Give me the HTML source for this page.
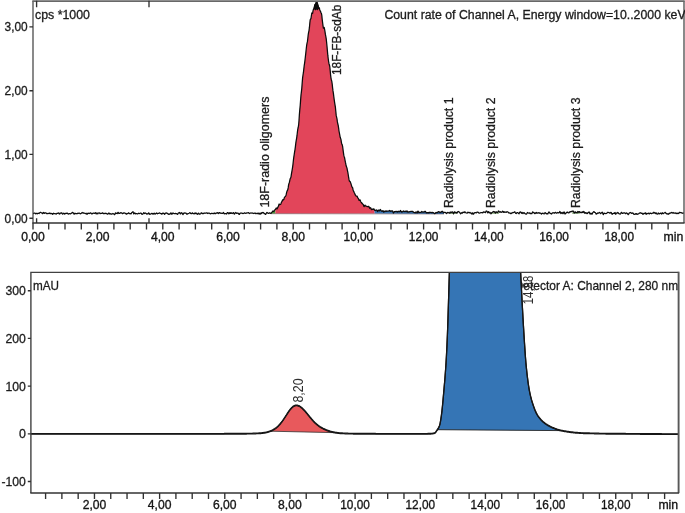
<!DOCTYPE html>
<html lang="en"><head><meta charset="utf-8"><title>Chromatogram</title>
<style>
html,body{margin:0;padding:0;background:#fff;}
body{width:685px;height:513px;overflow:hidden;}
svg{display:block;}
text{font-family:"Liberation Sans",sans-serif;fill:#1c1c1c;stroke:#1c1c1c;stroke-width:0.3;}
.pl{fill:#2e2e2e;stroke:none;}
.xl{fill:#151515;stroke:#151515;stroke-width:0.35;}
</style></head><body>
<svg width="685" height="513" viewBox="0 0 685 513">
<rect width="685" height="513" fill="#fff"/>
<path d="M270.6,213.3 L271.0,213.3 L271.4,212.8 L271.8,212.3 L272.2,212.0 L272.6,211.2 L273.0,210.9 L273.4,211.4 L273.8,211.5 L274.2,210.8 L274.6,210.0 L275.0,209.8 L275.4,209.6 L275.4,213.6 L270.6,213.6 Z" fill="#4a9a3a"/>
<path d="M275.4,209.6 L275.8,208.7 L276.2,208.0 L276.6,208.4 L277.0,208.9 L277.4,208.3 L277.8,207.2 L278.2,206.8 L278.6,205.8 L279.0,204.2 L279.4,204.1 L279.8,204.6 L280.2,204.5 L280.6,204.4 L281.0,203.5 L281.4,202.4 L281.8,201.7 L282.2,201.1 L282.6,200.0 L283.0,199.6 L283.4,199.9 L283.8,199.6 L284.2,198.1 L284.6,197.0 L285.0,196.8 L285.4,196.5 L285.8,195.7 L286.2,194.5 L286.6,192.7 L287.0,191.2 L287.4,190.4 L287.8,189.6 L288.2,187.7 L288.6,184.8 L289.0,183.3 L289.4,182.4 L289.8,180.3 L290.2,178.7 L290.6,178.2 L291.0,176.8 L291.4,174.2 L291.8,171.8 L292.2,169.6 L292.6,167.1 L293.0,164.1 L293.4,160.3 L293.8,157.1 L294.2,154.6 L294.6,151.9 L295.0,149.6 L295.4,146.6 L295.8,143.2 L296.2,140.6 L296.6,138.3 L297.0,135.7 L297.4,132.0 L297.8,129.1 L298.2,127.5 L298.6,125.2 L299.0,120.5 L299.4,114.4 L299.8,109.6 L300.2,105.6 L300.6,100.1 L301.0,95.0 L301.4,91.8 L301.8,88.1 L302.2,82.9 L302.6,77.9 L303.0,75.0 L303.4,72.7 L303.8,69.1 L304.2,65.7 L304.6,63.1 L305.0,60.0 L305.4,56.5 L305.8,53.0 L306.2,49.2 L306.6,45.7 L307.0,43.3 L307.4,41.7 L307.8,38.5 L308.2,34.8 L308.6,32.4 L309.0,30.6 L309.4,27.7 L309.8,23.2 L310.2,19.8 L310.6,19.1 L311.0,18.4 L311.4,15.6 L311.8,13.0 L312.2,13.3 L312.6,13.3 L313.0,10.8 L313.4,9.4 L313.8,9.3 L314.2,7.8 L314.6,5.6 L315.0,4.6 L315.4,5.3 L315.8,4.9 L316.2,4.0 L316.6,2.5 L317.0,1.7 L317.4,3.2 L317.8,4.8 L318.2,6.1 L318.6,7.4 L319.0,7.6 L319.4,8.2 L319.8,10.0 L320.2,10.9 L320.6,11.5 L321.0,12.7 L321.4,13.4 L321.8,15.3 L322.2,19.4 L322.6,22.7 L323.0,25.6 L323.4,28.1 L323.8,27.7 L324.2,27.5 L324.6,29.4 L325.0,31.7 L325.4,34.4 L325.8,36.4 L326.2,38.6 L326.6,42.3 L327.0,46.3 L327.4,50.9 L327.8,55.2 L328.2,58.5 L328.6,61.5 L329.0,63.7 L329.4,65.0 L329.8,66.7 L330.2,70.6 L330.6,75.1 L331.0,78.1 L331.4,80.0 L331.8,81.4 L332.2,84.0 L332.6,87.9 L333.0,90.9 L333.4,93.4 L333.8,96.6 L334.2,99.6 L334.6,102.3 L335.0,104.8 L335.4,107.2 L335.8,111.2 L336.2,115.4 L336.6,117.1 L337.0,118.8 L337.4,121.9 L337.8,124.0 L338.2,125.3 L338.6,127.9 L339.0,131.0 L339.4,133.0 L339.8,135.2 L340.2,137.3 L340.6,138.3 L341.0,139.7 L341.4,142.3 L341.8,144.1 L342.2,144.7 L342.6,146.4 L343.0,149.4 L343.4,152.4 L343.8,155.2 L344.2,156.7 L344.6,157.8 L345.0,160.1 L345.4,162.2 L345.8,164.0 L346.2,166.1 L346.6,167.0 L347.0,168.1 L347.4,170.3 L347.8,172.2 L348.2,174.5 L348.6,177.1 L349.0,179.4 L349.4,181.2 L349.8,181.4 L350.2,181.6 L350.6,182.7 L351.0,183.8 L351.4,185.2 L351.8,186.7 L352.2,187.1 L352.6,187.7 L353.0,189.5 L353.4,190.8 L353.8,191.6 L354.2,192.5 L354.6,193.3 L355.0,194.2 L355.4,195.2 L355.8,195.7 L356.2,196.1 L356.6,196.2 L357.0,196.1 L357.4,196.9 L357.8,197.9 L358.2,198.3 L358.6,199.0 L359.0,200.4 L359.4,200.5 L359.8,199.8 L360.2,200.1 L360.6,201.3 L361.0,202.1 L361.4,202.5 L361.8,203.0 L362.2,203.5 L362.6,204.0 L363.0,204.2 L363.4,204.8 L363.8,206.2 L364.2,206.6 L364.6,205.6 L365.0,205.1 L365.4,205.7 L365.8,206.2 L366.2,206.1 L366.6,206.3 L367.0,206.6 L367.4,206.5 L367.8,206.6 L368.2,206.7 L368.6,206.3 L369.0,206.7 L369.4,207.7 L369.8,208.3 L370.2,208.1 L370.6,207.7 L371.0,208.4 L371.4,209.4 L371.8,209.6 L372.2,209.2 L372.6,209.1 L373.0,209.4 L373.4,209.2 L373.8,208.8 L374.2,209.4 L374.6,210.3 L374.6,213.6 L275.4,213.5 Z" fill="#e2455a"/>
<path d="M374.6,210.3 L375.0,210.6 L375.4,210.4 L375.8,210.2 L376.2,210.2 L376.6,210.0 L377.0,210.5 L377.4,211.5 L377.8,211.1 L378.2,210.2 L378.6,210.2 L379.0,210.8 L379.4,210.9 L379.8,210.1 L380.2,209.5 L380.6,210.0 L381.0,210.5 L381.4,211.0 L381.8,211.3 L382.2,211.3 L382.6,210.9 L383.0,210.6 L383.4,211.4 L383.8,212.1 L384.2,211.7 L384.6,211.2 L385.0,211.4 L385.4,211.5 L385.8,210.9 L386.2,210.8 L386.6,211.3 L387.0,211.3 L387.4,211.0 L387.8,211.0 L388.2,211.0 L388.6,211.0 L389.0,210.8 L389.4,210.5 L389.8,211.0 L390.2,211.3 L390.6,210.8 L391.0,211.0 L391.4,211.2 L391.8,210.9 L392.2,210.8 L392.6,211.0 L393.0,212.0 L393.4,213.0 L393.8,212.6 L394.2,211.8 L394.6,211.6 L395.0,211.5 L395.4,211.7 L395.8,211.7 L396.2,211.3 L396.6,211.5 L397.0,211.9 L397.4,212.0 L397.8,211.6 L398.2,211.2 L398.6,211.5 L399.0,211.8 L399.4,211.7 L399.8,211.5 L400.2,210.8 L400.6,210.5 L401.0,211.5 L401.4,212.0 L401.8,211.7 L402.2,211.8 L402.6,211.8 L403.0,211.3 L403.4,211.0 L403.8,211.5 L404.2,211.7 L404.6,211.4 L405.0,211.6 L405.4,211.3 L405.8,211.2 L406.2,211.8 L406.6,211.5 L407.0,210.9 L407.4,211.3 L407.8,212.2 L408.2,212.2 L408.6,211.8 L409.0,211.9 L409.4,211.9 L409.8,211.6 L410.2,211.6 L410.6,211.6 L411.0,211.3 L411.4,211.3 L411.8,211.6 L412.2,211.6 L412.6,211.4 L413.0,211.6 L413.4,212.2 L413.8,212.3 L414.2,212.5 L414.6,212.6 L415.0,212.8 L415.4,212.8 L415.8,212.1 L416.2,211.9 L416.6,212.3 L417.0,213.0 L417.4,212.6 L417.8,211.2 L418.2,211.2 L418.6,212.2 L419.0,212.6 L419.4,212.5 L419.8,212.2 L420.2,212.3 L420.6,212.4 L421.0,212.4 L421.4,212.0 L421.8,211.5 L422.2,211.7 L422.6,212.0 L423.0,212.3 L423.4,212.1 L423.8,211.8 L424.2,212.0 L424.6,211.7 L425.0,211.3 L425.4,211.4 L425.8,212.0 L426.2,212.7 L426.6,212.8 L427.0,212.7 L427.4,212.8 L427.8,212.6 L428.2,212.5 L428.6,212.9 L429.0,212.9 L429.4,212.5 L429.8,212.2 L430.2,212.4 L430.6,212.3 L431.0,212.3 L431.4,212.7 L431.8,212.7 L432.2,212.5 L432.6,212.4 L433.0,212.6 L433.4,212.7 L433.8,212.9 L434.2,213.4 L434.6,213.6 L435.0,213.6 L435.4,213.3 L435.8,212.5 L436.2,212.4 L436.6,212.7 L437.0,212.8 L437.4,212.6 L437.8,212.1 L438.2,211.8 L438.6,211.7 L439.0,211.7 L439.4,212.2 L439.8,212.3 L440.2,212.2 L440.6,212.5 L441.0,212.4 L441.4,211.7 L441.8,211.4 L442.2,211.4 L442.6,211.3 L443.0,212.1 L443.4,212.9 L443.8,212.7 L443.8,214.0 L374.6,213.6 Z" fill="#3a76b4"/>
<line x1="270.5" y1="213.7" x2="444" y2="214.0" stroke="#30141a" stroke-width="0.6" opacity="0.7"/>
<path d="M449.4,213.1 L449.8,212.9 L450.2,212.0 L450.6,212.2 L451.0,212.8 L451.4,212.4 L451.8,212.1 L452.2,211.9 L452.6,211.9 L453.0,212.8 L453.4,213.9 L453.8,213.3 L454.2,212.1 L454.6,211.8 L455.0,212.4 L455.4,212.7 L455.8,212.3 L456.2,212.3 L456.6,213.0 L457.0,213.1 L457.0,214.0 L449.4,214.0 Z" fill="#5a8a4a" opacity="0.6"/>
<path d="M491.4,213.3 L491.8,212.6 L492.2,212.5 L492.6,212.3 L493.0,211.7 L493.4,211.5 L493.8,211.7 L494.2,211.7 L494.6,211.9 L495.0,212.6 L495.4,213.0 L495.8,212.2 L496.2,211.8 L496.6,212.1 L497.0,212.5 L497.4,212.6 L497.8,212.0 L498.2,211.3 L498.6,211.0 L499.0,211.5 L499.0,214.0 L491.4,214.0 Z" fill="#5a8a4a" opacity="0.6"/>
<path d="M572.2,211.4 L572.6,211.1 L573.0,211.0 L573.4,211.3 L573.8,212.1 L574.2,213.0 L574.6,212.9 L575.0,211.9 L575.4,211.9 L575.8,212.5 L576.2,212.4 L576.6,212.5 L577.0,212.9 L577.4,212.3 L577.8,211.5 L578.2,211.6 L578.6,212.3 L579.0,212.3 L579.4,211.6 L579.8,211.8 L579.8,214.0 L572.2,214.0 Z" fill="#5a8a4a" opacity="0.6"/>
<path d="M33.0,213.6 L33.4,213.6 L33.8,213.3 L34.2,213.0 L34.6,213.0 L35.0,213.0 L35.4,213.6 L35.8,213.9 L36.2,213.4 L36.6,213.3 L37.0,213.6 L37.4,213.8 L37.8,213.4 L38.2,213.2 L38.6,213.4 L39.0,213.5 L39.4,213.0 L39.8,212.7 L40.2,212.4 L40.6,212.3 L41.0,212.5 L41.4,212.8 L41.8,213.0 L42.2,213.4 L42.6,213.6 L43.0,213.0 L43.4,212.4 L43.8,212.8 L44.2,213.4 L44.6,213.2 L45.0,212.8 L45.4,212.8 L45.8,212.9 L46.2,213.2 L46.6,213.6 L47.0,213.4 L47.4,213.5 L47.8,213.7 L48.2,213.4 L48.6,213.4 L49.0,213.5 L49.4,213.3 L49.8,213.0 L50.2,213.6 L50.6,213.7 L51.0,213.3 L51.4,213.6 L51.8,213.6 L52.2,213.7 L52.6,214.3 L53.0,214.0 L53.4,213.2 L53.8,213.4 L54.2,213.7 L54.6,213.7 L55.0,213.7 L55.4,213.7 L55.8,214.0 L56.2,214.1 L56.6,213.6 L57.0,213.4 L57.4,213.4 L57.8,213.2 L58.2,212.9 L58.6,213.0 L59.0,213.5 L59.4,214.0 L59.8,213.9 L60.2,213.1 L60.6,213.1 L61.0,213.2 L61.4,212.8 L61.8,212.9 L62.2,213.6 L62.6,214.1 L63.0,214.0 L63.4,213.4 L63.8,213.2 L64.2,213.6 L64.6,214.0 L65.0,213.6 L65.4,213.4 L65.8,213.6 L66.2,213.5 L66.6,213.2 L67.0,213.0 L67.4,213.2 L67.8,213.6 L68.2,214.0 L68.6,214.0 L69.0,213.7 L69.4,213.7 L69.8,213.7 L70.2,213.8 L70.6,213.8 L71.0,213.5 L71.4,213.2 L71.8,213.1 L72.2,212.5 L72.6,212.3 L73.0,212.8 L73.4,213.1 L73.8,213.8 L74.2,214.2 L74.6,213.5 L75.0,213.1 L75.4,213.6 L75.8,213.7 L76.2,213.5 L76.6,213.5 L77.0,213.8 L77.4,213.6 L77.8,213.2 L78.2,213.3 L78.6,213.3 L79.0,213.1 L79.4,213.2 L79.8,213.4 L80.2,213.7 L80.6,213.8 L81.0,213.5 L81.4,213.3 L81.8,212.9 L82.2,212.5 L82.6,212.7 L83.0,213.0 L83.4,212.9 L83.8,213.1 L84.2,213.1 L84.6,213.3 L85.0,213.5 L85.4,213.7 L85.8,213.4 L86.2,213.2 L86.6,214.0 L87.0,214.3 L87.4,213.7 L87.8,213.3 L88.2,213.2 L88.6,213.3 L89.0,213.6 L89.4,213.5 L89.8,213.2 L90.2,213.1 L90.6,212.9 L91.0,213.1 L91.4,213.7 L91.8,213.9 L92.2,213.8 L92.6,213.6 L93.0,213.2 L93.4,213.1 L93.8,213.2 L94.2,213.3 L94.6,213.3 L95.0,213.0 L95.4,212.7 L95.8,213.2 L96.2,213.9 L96.6,213.4 L97.0,213.0 L97.4,213.7 L97.8,213.8 L98.2,213.2 L98.6,213.0 L99.0,212.9 L99.4,212.8 L99.8,213.4 L100.2,213.6 L100.6,213.4 L101.0,213.3 L101.4,213.4 L101.8,213.4 L102.2,213.1 L102.6,212.8 L103.0,213.1 L103.4,213.7 L103.8,213.6 L104.2,213.5 L104.6,213.5 L105.0,213.2 L105.4,213.3 L105.8,213.6 L106.2,213.5 L106.6,213.4 L107.0,213.7 L107.4,214.1 L107.8,214.1 L108.2,213.7 L108.6,213.1 L109.0,213.0 L109.4,213.8 L109.8,214.0 L110.2,213.7 L110.6,213.8 L111.0,214.1 L111.4,214.2 L111.8,213.9 L112.2,213.8 L112.6,213.8 L113.0,213.5 L113.4,213.7 L113.8,214.0 L114.2,214.3 L114.6,214.7 L115.0,214.2 L115.4,213.0 L115.8,212.8 L116.2,213.3 L116.6,213.3 L117.0,213.5 L117.4,213.5 L117.8,212.6 L118.2,212.4 L118.6,213.2 L119.0,213.5 L119.4,213.4 L119.8,213.3 L120.2,212.9 L120.6,212.7 L121.0,213.0 L121.4,212.8 L121.8,212.8 L122.2,213.4 L122.6,213.7 L123.0,213.5 L123.4,213.1 L123.8,212.9 L124.2,212.8 L124.6,213.0 L125.0,213.3 L125.4,213.3 L125.8,213.6 L126.2,214.1 L126.6,214.1 L127.0,213.5 L127.4,213.6 L127.8,213.6 L128.2,213.2 L128.6,212.8 L129.0,213.2 L129.4,213.7 L129.8,213.6 L130.2,213.5 L130.6,213.6 L131.0,213.9 L131.4,213.3 L131.8,212.5 L132.2,212.4 L132.6,212.0 L133.0,211.7 L133.4,212.9 L133.8,213.9 L134.2,213.5 L134.6,212.9 L135.0,213.1 L135.4,213.8 L135.8,213.8 L136.2,213.5 L136.6,213.5 L137.0,213.7 L137.4,213.9 L137.8,213.9 L138.2,213.5 L138.6,213.2 L139.0,213.4 L139.4,213.5 L139.8,213.5 L140.2,213.2 L140.6,213.2 L141.0,213.2 L141.4,213.3 L141.8,214.2 L142.2,214.3 L142.6,213.8 L143.0,213.8 L143.4,213.3 L143.8,212.6 L144.2,213.1 L144.6,213.5 L145.0,213.3 L145.4,213.0 L145.8,213.2 L146.2,213.6 L146.6,214.0 L147.0,213.9 L147.4,213.9 L147.8,214.0 L148.2,213.5 L148.6,212.9 L149.0,213.0 L149.4,213.9 L149.8,214.4 L150.2,214.2 L150.6,214.0 L151.0,213.7 L151.4,213.6 L151.8,213.4 L152.2,213.4 L152.6,213.8 L153.0,214.2 L153.4,214.0 L153.8,213.5 L154.2,213.1 L154.6,213.5 L155.0,214.1 L155.4,214.0 L155.8,213.6 L156.2,213.2 L156.6,213.0 L157.0,213.4 L157.4,213.8 L157.8,213.5 L158.2,213.3 L158.6,213.4 L159.0,213.2 L159.4,212.9 L159.8,212.9 L160.2,213.3 L160.6,213.5 L161.0,213.5 L161.4,213.9 L161.8,214.1 L162.2,213.6 L162.6,213.2 L163.0,213.5 L163.4,213.3 L163.8,213.2 L164.2,213.9 L164.6,214.3 L165.0,213.8 L165.4,213.2 L165.8,213.1 L166.2,213.2 L166.6,212.9 L167.0,213.1 L167.4,213.6 L167.8,213.6 L168.2,214.0 L168.6,214.4 L169.0,214.0 L169.4,214.1 L169.8,214.3 L170.2,213.7 L170.6,213.0 L171.0,212.9 L171.4,213.5 L171.8,214.3 L172.2,214.0 L172.6,213.2 L173.0,212.9 L173.4,213.2 L173.8,213.5 L174.2,213.5 L174.6,213.6 L175.0,213.6 L175.4,213.4 L175.8,213.5 L176.2,213.6 L176.6,213.6 L177.0,214.0 L177.4,214.4 L177.8,214.1 L178.2,213.3 L178.6,212.9 L179.0,212.9 L179.4,212.5 L179.8,212.7 L180.2,213.7 L180.6,213.9 L181.0,213.2 L181.4,212.7 L181.8,212.9 L182.2,213.3 L182.6,214.1 L183.0,214.5 L183.4,213.9 L183.8,213.0 L184.2,212.9 L184.6,213.2 L185.0,213.2 L185.4,213.0 L185.8,213.1 L186.2,213.3 L186.6,213.9 L187.0,214.3 L187.4,214.0 L187.8,213.6 L188.2,213.6 L188.6,213.5 L189.0,213.3 L189.4,213.0 L189.8,212.6 L190.2,212.8 L190.6,213.5 L191.0,213.6 L191.4,213.7 L191.8,213.6 L192.2,212.9 L192.6,212.9 L193.0,213.5 L193.4,213.6 L193.8,213.6 L194.2,213.9 L194.6,213.5 L195.0,212.9 L195.4,213.1 L195.8,213.7 L196.2,213.5 L196.6,213.1 L197.0,213.8 L197.4,214.3 L197.8,214.1 L198.2,213.6 L198.6,213.1 L199.0,213.5 L199.4,214.2 L199.8,214.2 L200.2,214.0 L200.6,213.6 L201.0,213.1 L201.4,212.8 L201.8,213.2 L202.2,213.6 L202.6,213.4 L203.0,213.7 L203.4,213.6 L203.8,213.1 L204.2,213.0 L204.6,213.2 L205.0,213.3 L205.4,213.1 L205.8,213.0 L206.2,213.0 L206.6,212.8 L207.0,212.8 L207.4,213.4 L207.8,213.5 L208.2,213.1 L208.6,213.1 L209.0,213.1 L209.4,213.2 L209.8,213.5 L210.2,213.8 L210.6,213.8 L211.0,213.6 L211.4,213.4 L211.8,213.3 L212.2,213.3 L212.6,213.5 L213.0,213.7 L213.4,213.7 L213.8,213.4 L214.2,213.0 L214.6,213.3 L215.0,213.7 L215.4,213.7 L215.8,213.3 L216.2,213.0 L216.6,212.9 L217.0,213.2 L217.4,212.8 L217.8,212.6 L218.2,213.3 L218.6,213.6 L219.0,212.9 L219.4,212.6 L219.8,212.8 L220.2,213.0 L220.6,213.3 L221.0,213.1 L221.4,213.2 L221.8,213.4 L222.2,213.4 L222.6,213.3 L223.0,213.0 L223.4,212.5 L223.8,212.9 L224.2,213.8 L224.6,213.8 L225.0,213.5 L225.4,213.5 L225.8,213.5 L226.2,213.9 L226.6,214.0 L227.0,213.1 L227.4,212.5 L227.8,212.5 L228.2,212.9 L228.6,213.7 L229.0,213.8 L229.4,213.0 L229.8,212.7 L230.2,213.3 L230.6,213.4 L231.0,212.7 L231.4,212.9 L231.8,213.4 L232.2,213.5 L232.6,213.2 L233.0,212.9 L233.4,212.6 L233.8,213.1 L234.2,214.0 L234.6,214.0 L235.0,213.3 L235.4,212.7 L235.8,212.5 L236.2,212.9 L236.6,213.4 L237.0,213.4 L237.4,213.2 L237.8,213.0 L238.2,213.2 L238.6,213.7 L239.0,214.3 L239.4,214.4 L239.8,213.6 L240.2,213.1 L240.6,213.2 L241.0,213.1 L241.4,213.0 L241.8,213.1 L242.2,213.2 L242.6,213.5 L243.0,213.6 L243.4,213.5 L243.8,213.3 L244.2,212.9 L244.6,212.9 L245.0,213.1 L245.4,213.2 L245.8,213.4 L246.2,213.2 L246.6,212.9 L247.0,212.9 L247.4,212.8 L247.8,212.9 L248.2,212.8 L248.6,212.6 L249.0,213.1 L249.4,213.5 L249.8,213.3 L250.2,213.2 L250.6,213.0 L251.0,212.9 L251.4,213.0 L251.8,213.2 L252.2,213.1 L252.6,213.0 L253.0,213.3 L253.4,213.5 L253.8,213.3 L254.2,213.3 L254.6,213.2 L255.0,213.0 L255.4,213.3 L255.8,213.7 L256.2,213.7 L256.6,213.5 L257.0,213.2 L257.4,213.3 L257.8,213.7 L258.2,213.8 L258.6,213.3 L259.0,213.0 L259.4,213.6 L259.8,214.2 L260.2,214.1 L260.6,213.4 L261.0,213.0 L261.4,213.5 L261.8,213.0 L262.2,212.5 L262.6,212.8 L263.0,212.6 L263.4,212.5 L263.8,213.1 L264.2,213.7 L264.6,213.5 L265.0,213.7 L265.4,214.4 L265.8,214.2 L266.2,213.5 L266.6,212.8 L267.0,212.4 L267.4,212.7 L267.8,213.2 L268.2,213.3 L268.6,213.3 L269.0,213.2 L269.4,212.8 L269.8,212.8 L270.2,213.2 L270.6,213.3 L271.0,213.3 L271.4,212.8 L271.8,212.3 L272.2,212.0 L272.6,211.2 L273.0,210.9 L273.4,211.4 L273.8,211.5 L274.2,210.8 L274.6,210.0 L275.0,209.8 L275.4,209.6 L275.8,208.7 L276.2,208.0 L276.6,208.4 L277.0,208.9 L277.4,208.3 L277.8,207.2 L278.2,206.8 L278.6,205.8 L279.0,204.2 L279.4,204.1 L279.8,204.6 L280.2,204.5 L280.6,204.4 L281.0,203.5 L281.4,202.4 L281.8,201.7 L282.2,201.1 L282.6,200.0 L283.0,199.6 L283.4,199.9 L283.8,199.6 L284.2,198.1 L284.6,197.0 L285.0,196.8 L285.4,196.5 L285.8,195.7 L286.2,194.5 L286.6,192.7 L287.0,191.2 L287.4,190.4 L287.8,189.6 L288.2,187.7 L288.6,184.8 L289.0,183.3 L289.4,182.4 L289.8,180.3 L290.2,178.7 L290.6,178.2 L291.0,176.8 L291.4,174.2 L291.8,171.8 L292.2,169.6 L292.6,167.1 L293.0,164.1 L293.4,160.3 L293.8,157.1 L294.2,154.6 L294.6,151.9 L295.0,149.6 L295.4,146.6 L295.8,143.2 L296.2,140.6 L296.6,138.3 L297.0,135.7 L297.4,132.0 L297.8,129.1 L298.2,127.5 L298.6,125.2 L299.0,120.5 L299.4,114.4 L299.8,109.6 L300.2,105.6 L300.6,100.1 L301.0,95.0 L301.4,91.8 L301.8,88.1 L302.2,82.9 L302.6,77.9 L303.0,75.0 L303.4,72.7 L303.8,69.1 L304.2,65.7 L304.6,63.1 L305.0,60.0 L305.4,56.5 L305.8,53.0 L306.2,49.2 L306.6,45.7 L307.0,43.3 L307.4,41.7 L307.8,38.5 L308.2,34.8 L308.6,32.4 L309.0,30.6 L309.4,27.7 L309.8,23.2 L310.2,19.8 L310.6,19.1 L311.0,18.4 L311.4,15.6 L311.8,13.0 L312.2,13.3 L312.6,13.3 L313.0,10.8 L313.4,9.4 L313.8,9.3 L314.2,7.8 L314.6,5.6 L315.0,4.6 L315.4,5.3 L315.8,4.9 L316.2,4.0 L316.6,2.5 L317.0,1.7 L317.4,3.2 L317.8,4.8 L318.2,6.1 L318.6,7.4 L319.0,7.6 L319.4,8.2 L319.8,10.0 L320.2,10.9 L320.6,11.5 L321.0,12.7 L321.4,13.4 L321.8,15.3 L322.2,19.4 L322.6,22.7 L323.0,25.6 L323.4,28.1 L323.8,27.7 L324.2,27.5 L324.6,29.4 L325.0,31.7 L325.4,34.4 L325.8,36.4 L326.2,38.6 L326.6,42.3 L327.0,46.3 L327.4,50.9 L327.8,55.2 L328.2,58.5 L328.6,61.5 L329.0,63.7 L329.4,65.0 L329.8,66.7 L330.2,70.6 L330.6,75.1 L331.0,78.1 L331.4,80.0 L331.8,81.4 L332.2,84.0 L332.6,87.9 L333.0,90.9 L333.4,93.4 L333.8,96.6 L334.2,99.6 L334.6,102.3 L335.0,104.8 L335.4,107.2 L335.8,111.2 L336.2,115.4 L336.6,117.1 L337.0,118.8 L337.4,121.9 L337.8,124.0 L338.2,125.3 L338.6,127.9 L339.0,131.0 L339.4,133.0 L339.8,135.2 L340.2,137.3 L340.6,138.3 L341.0,139.7 L341.4,142.3 L341.8,144.1 L342.2,144.7 L342.6,146.4 L343.0,149.4 L343.4,152.4 L343.8,155.2 L344.2,156.7 L344.6,157.8 L345.0,160.1 L345.4,162.2 L345.8,164.0 L346.2,166.1 L346.6,167.0 L347.0,168.1 L347.4,170.3 L347.8,172.2 L348.2,174.5 L348.6,177.1 L349.0,179.4 L349.4,181.2 L349.8,181.4 L350.2,181.6 L350.6,182.7 L351.0,183.8 L351.4,185.2 L351.8,186.7 L352.2,187.1 L352.6,187.7 L353.0,189.5 L353.4,190.8 L353.8,191.6 L354.2,192.5 L354.6,193.3 L355.0,194.2 L355.4,195.2 L355.8,195.7 L356.2,196.1 L356.6,196.2 L357.0,196.1 L357.4,196.9 L357.8,197.9 L358.2,198.3 L358.6,199.0 L359.0,200.4 L359.4,200.5 L359.8,199.8 L360.2,200.1 L360.6,201.3 L361.0,202.1 L361.4,202.5 L361.8,203.0 L362.2,203.5 L362.6,204.0 L363.0,204.2 L363.4,204.8 L363.8,206.2 L364.2,206.6 L364.6,205.6 L365.0,205.1 L365.4,205.7 L365.8,206.2 L366.2,206.1 L366.6,206.3 L367.0,206.6 L367.4,206.5 L367.8,206.6 L368.2,206.7 L368.6,206.3 L369.0,206.7 L369.4,207.7 L369.8,208.3 L370.2,208.1 L370.6,207.7 L371.0,208.4 L371.4,209.4 L371.8,209.6 L372.2,209.2 L372.6,209.1 L373.0,209.4 L373.4,209.2 L373.8,208.8 L374.2,209.4 L374.6,210.3 L375.0,210.6 L375.4,210.4 L375.8,210.2 L376.2,210.2 L376.6,210.0 L377.0,210.5 L377.4,211.5 L377.8,211.1 L378.2,210.2 L378.6,210.2 L379.0,210.8 L379.4,210.9 L379.8,210.1 L380.2,209.5 L380.6,210.0 L381.0,210.5 L381.4,211.0 L381.8,211.3 L382.2,211.3 L382.6,210.9 L383.0,210.6 L383.4,211.4 L383.8,212.1 L384.2,211.7 L384.6,211.2 L385.0,211.4 L385.4,211.5 L385.8,210.9 L386.2,210.8 L386.6,211.3 L387.0,211.3 L387.4,211.0 L387.8,211.0 L388.2,211.0 L388.6,211.0 L389.0,210.8 L389.4,210.5 L389.8,211.0 L390.2,211.3 L390.6,210.8 L391.0,211.0 L391.4,211.2 L391.8,210.9 L392.2,210.8 L392.6,211.0 L393.0,212.0 L393.4,213.0 L393.8,212.6 L394.2,211.8 L394.6,211.6 L395.0,211.5 L395.4,211.7 L395.8,211.7 L396.2,211.3 L396.6,211.5 L397.0,211.9 L397.4,212.0 L397.8,211.6 L398.2,211.2 L398.6,211.5 L399.0,211.8 L399.4,211.7 L399.8,211.5 L400.2,210.8 L400.6,210.5 L401.0,211.5 L401.4,212.0 L401.8,211.7 L402.2,211.8 L402.6,211.8 L403.0,211.3 L403.4,211.0 L403.8,211.5 L404.2,211.7 L404.6,211.4 L405.0,211.6 L405.4,211.3 L405.8,211.2 L406.2,211.8 L406.6,211.5 L407.0,210.9 L407.4,211.3 L407.8,212.2 L408.2,212.2 L408.6,211.8 L409.0,211.9 L409.4,211.9 L409.8,211.6 L410.2,211.6 L410.6,211.6 L411.0,211.3 L411.4,211.3 L411.8,211.6 L412.2,211.6 L412.6,211.4 L413.0,211.6 L413.4,212.2 L413.8,212.3 L414.2,212.5 L414.6,212.6 L415.0,212.8 L415.4,212.8 L415.8,212.1 L416.2,211.9 L416.6,212.3 L417.0,213.0 L417.4,212.6 L417.8,211.2 L418.2,211.2 L418.6,212.2 L419.0,212.6 L419.4,212.5 L419.8,212.2 L420.2,212.3 L420.6,212.4 L421.0,212.4 L421.4,212.0 L421.8,211.5 L422.2,211.7 L422.6,212.0 L423.0,212.3 L423.4,212.1 L423.8,211.8 L424.2,212.0 L424.6,211.7 L425.0,211.3 L425.4,211.4 L425.8,212.0 L426.2,212.7 L426.6,212.8 L427.0,212.7 L427.4,212.8 L427.8,212.6 L428.2,212.5 L428.6,212.9 L429.0,212.9 L429.4,212.5 L429.8,212.2 L430.2,212.4 L430.6,212.3 L431.0,212.3 L431.4,212.7 L431.8,212.7 L432.2,212.5 L432.6,212.4 L433.0,212.6 L433.4,212.7 L433.8,212.9 L434.2,213.4 L434.6,213.6 L435.0,213.6 L435.4,213.3 L435.8,212.5 L436.2,212.4 L436.6,212.7 L437.0,212.8 L437.4,212.6 L437.8,212.1 L438.2,211.8 L438.6,211.7 L439.0,211.7 L439.4,212.2 L439.8,212.3 L440.2,212.2 L440.6,212.5 L441.0,212.4 L441.4,211.7 L441.8,211.4 L442.2,211.4 L442.6,211.3 L443.0,212.1 L443.4,212.9 L443.8,212.7 L444.2,212.4 L444.6,212.3 L445.0,212.4 L445.4,212.6 L445.8,212.7 L446.2,213.3 L446.6,213.6 L447.0,213.1 L447.4,212.5 L447.8,212.4 L448.2,212.6 L448.6,212.8 L449.0,212.9 L449.4,213.1 L449.8,212.9 L450.2,212.0 L450.6,212.2 L451.0,212.8 L451.4,212.4 L451.8,212.1 L452.2,211.9 L452.6,211.9 L453.0,212.8 L453.4,213.9 L453.8,213.3 L454.2,212.1 L454.6,211.8 L455.0,212.4 L455.4,212.7 L455.8,212.3 L456.2,212.3 L456.6,213.0 L457.0,213.1 L457.4,212.4 L457.8,211.7 L458.2,211.6 L458.6,211.5 L459.0,211.7 L459.4,212.4 L459.8,212.7 L460.2,213.2 L460.6,213.8 L461.0,213.4 L461.4,212.7 L461.8,213.1 L462.2,213.3 L462.6,212.5 L463.0,212.2 L463.4,212.2 L463.8,212.4 L464.2,212.6 L464.6,211.9 L465.0,211.8 L465.4,212.4 L465.8,212.7 L466.2,212.9 L466.6,213.0 L467.0,213.1 L467.4,212.9 L467.8,212.2 L468.2,212.3 L468.6,212.6 L469.0,212.8 L469.4,212.8 L469.8,212.4 L470.2,212.6 L470.6,213.2 L471.0,213.1 L471.4,213.1 L471.8,214.1 L472.2,214.0 L472.6,212.8 L473.0,213.2 L473.4,214.2 L473.8,213.8 L474.2,213.1 L474.6,212.7 L475.0,212.5 L475.4,212.5 L475.8,212.7 L476.2,212.9 L476.6,212.7 L477.0,212.2 L477.4,212.1 L477.8,212.3 L478.2,212.3 L478.6,212.7 L479.0,213.2 L479.4,213.2 L479.8,213.0 L480.2,212.9 L480.6,212.7 L481.0,212.5 L481.4,212.6 L481.8,212.6 L482.2,212.5 L482.6,212.9 L483.0,212.7 L483.4,212.1 L483.8,211.9 L484.2,212.1 L484.6,212.2 L485.0,212.4 L485.4,212.6 L485.8,211.8 L486.2,211.0 L486.6,211.1 L487.0,211.3 L487.4,212.1 L487.8,212.9 L488.2,212.5 L488.6,211.6 L489.0,212.0 L489.4,212.9 L489.8,212.7 L490.2,212.5 L490.6,213.2 L491.0,213.8 L491.4,213.3 L491.8,212.6 L492.2,212.5 L492.6,212.3 L493.0,211.7 L493.4,211.5 L493.8,211.7 L494.2,211.7 L494.6,211.9 L495.0,212.6 L495.4,213.0 L495.8,212.2 L496.2,211.8 L496.6,212.1 L497.0,212.5 L497.4,212.6 L497.8,212.0 L498.2,211.3 L498.6,211.0 L499.0,211.5 L499.4,212.2 L499.8,212.1 L500.2,211.7 L500.6,211.8 L501.0,212.3 L501.4,212.3 L501.8,212.1 L502.2,211.6 L502.6,211.2 L503.0,211.8 L503.4,212.3 L503.8,211.7 L504.2,211.8 L504.6,212.3 L505.0,212.1 L505.4,212.0 L505.8,212.2 L506.2,212.4 L506.6,212.0 L507.0,211.6 L507.4,211.9 L507.8,212.0 L508.2,212.2 L508.6,212.7 L509.0,213.1 L509.4,213.0 L509.8,212.8 L510.2,213.2 L510.6,213.6 L511.0,213.7 L511.4,213.5 L511.8,212.9 L512.2,212.8 L512.6,212.8 L513.0,212.4 L513.4,212.5 L513.8,212.5 L514.2,212.2 L514.6,211.8 L515.0,212.1 L515.4,212.8 L515.8,213.4 L516.2,213.5 L516.6,213.0 L517.0,212.6 L517.4,212.6 L517.8,212.8 L518.2,213.0 L518.6,213.5 L519.0,213.8 L519.4,213.0 L519.8,212.1 L520.2,212.0 L520.6,211.9 L521.0,212.4 L521.4,213.3 L521.8,213.0 L522.2,212.5 L522.6,213.2 L523.0,213.6 L523.4,213.0 L523.8,212.6 L524.2,212.8 L524.6,213.2 L525.0,213.6 L525.4,213.9 L525.8,214.0 L526.2,214.0 L526.6,214.0 L527.0,213.2 L527.4,212.5 L527.8,212.7 L528.2,213.0 L528.6,213.1 L529.0,213.2 L529.4,212.9 L529.8,212.9 L530.2,213.6 L530.6,213.6 L531.0,213.4 L531.4,213.7 L531.8,213.7 L532.2,212.9 L532.6,211.9 L533.0,212.1 L533.4,212.5 L533.8,212.6 L534.2,213.2 L534.6,213.5 L535.0,212.8 L535.4,212.9 L535.8,213.5 L536.2,213.0 L536.6,212.5 L537.0,213.0 L537.4,213.1 L537.8,213.0 L538.2,213.1 L538.6,212.8 L539.0,212.6 L539.4,213.1 L539.8,213.3 L540.2,213.0 L540.6,213.0 L541.0,213.6 L541.4,214.0 L541.8,213.6 L542.2,213.4 L542.6,213.3 L543.0,213.1 L543.4,213.5 L543.8,213.8 L544.2,213.8 L544.6,213.3 L545.0,212.7 L545.4,212.8 L545.8,213.2 L546.2,213.7 L546.6,213.8 L547.0,213.7 L547.4,213.8 L547.8,213.9 L548.2,213.1 L548.6,212.2 L549.0,211.9 L549.4,212.5 L549.8,213.2 L550.2,213.2 L550.6,213.4 L551.0,213.8 L551.4,214.0 L551.8,213.7 L552.2,213.1 L552.6,212.8 L553.0,212.9 L553.4,212.9 L553.8,212.7 L554.2,213.1 L554.6,213.2 L555.0,212.5 L555.4,212.4 L555.8,212.6 L556.2,212.9 L556.6,213.2 L557.0,213.1 L557.4,212.8 L557.8,212.5 L558.2,212.8 L558.6,212.9 L559.0,212.9 L559.4,212.4 L559.8,211.5 L560.2,211.9 L560.6,213.0 L561.0,213.5 L561.4,213.2 L561.8,212.5 L562.2,212.4 L562.6,213.3 L563.0,213.7 L563.4,212.9 L563.8,212.1 L564.2,212.0 L564.6,213.2 L565.0,214.0 L565.4,213.7 L565.8,213.3 L566.2,212.8 L566.6,212.4 L567.0,212.6 L567.4,212.1 L567.8,212.1 L568.2,212.7 L568.6,212.9 L569.0,212.8 L569.4,212.5 L569.8,211.8 L570.2,211.6 L570.6,211.9 L571.0,211.8 L571.4,211.3 L571.8,211.4 L572.2,211.4 L572.6,211.1 L573.0,211.0 L573.4,211.3 L573.8,212.1 L574.2,213.0 L574.6,212.9 L575.0,211.9 L575.4,211.9 L575.8,212.5 L576.2,212.4 L576.6,212.5 L577.0,212.9 L577.4,212.3 L577.8,211.5 L578.2,211.6 L578.6,212.3 L579.0,212.3 L579.4,211.6 L579.8,211.8 L580.2,212.5 L580.6,212.6 L581.0,212.4 L581.4,212.7 L581.8,212.4 L582.2,211.7 L582.6,212.0 L583.0,212.5 L583.4,211.9 L583.8,211.4 L584.2,212.1 L584.6,213.2 L585.0,212.9 L585.4,212.6 L585.8,213.0 L586.2,212.9 L586.6,213.1 L587.0,213.6 L587.4,213.4 L587.8,212.7 L588.2,212.4 L588.6,212.6 L589.0,212.0 L589.4,212.1 L589.8,213.6 L590.2,214.1 L590.6,213.5 L591.0,213.1 L591.4,213.6 L591.8,214.2 L592.2,213.9 L592.6,213.0 L593.0,212.4 L593.4,212.1 L593.8,211.6 L594.2,211.8 L594.6,212.4 L595.0,212.5 L595.4,212.7 L595.8,213.3 L596.2,214.1 L596.6,214.0 L597.0,213.5 L597.4,213.4 L597.8,212.9 L598.2,213.0 L598.6,213.1 L599.0,212.7 L599.4,212.4 L599.8,212.5 L600.2,213.2 L600.6,213.7 L601.0,213.2 L601.4,212.9 L601.8,212.6 L602.2,212.2 L602.6,212.7 L603.0,214.0 L603.4,214.5 L603.8,213.7 L604.2,213.1 L604.6,213.3 L605.0,213.4 L605.4,213.5 L605.8,213.5 L606.2,213.5 L606.6,213.4 L607.0,213.0 L607.4,212.6 L607.8,212.3 L608.2,212.4 L608.6,212.5 L609.0,212.7 L609.4,212.8 L609.8,213.2 L610.2,213.1 L610.6,212.6 L611.0,212.4 L611.4,212.8 L611.8,213.7 L612.2,214.3 L612.6,213.9 L613.0,213.6 L613.4,213.5 L613.8,213.2 L614.2,213.4 L614.6,212.7 L615.0,212.5 L615.4,214.1 L615.8,214.2 L616.2,213.2 L616.6,213.1 L617.0,213.2 L617.4,213.0 L617.8,212.5 L618.2,212.8 L618.6,213.4 L619.0,213.7 L619.4,213.8 L619.8,214.0 L620.2,214.1 L620.6,213.5 L621.0,212.8 L621.4,212.3 L621.8,212.6 L622.2,213.4 L622.6,213.3 L623.0,213.3 L623.4,213.1 L623.8,212.8 L624.2,212.8 L624.6,212.9 L625.0,213.1 L625.4,213.6 L625.8,213.6 L626.2,213.0 L626.6,212.9 L627.0,213.2 L627.4,213.5 L627.8,214.2 L628.2,214.7 L628.6,214.2 L629.0,213.4 L629.4,213.0 L629.8,212.7 L630.2,212.5 L630.6,212.6 L631.0,212.8 L631.4,213.2 L631.8,213.4 L632.2,213.2 L632.6,212.9 L633.0,213.1 L633.4,213.8 L633.8,214.2 L634.2,214.3 L634.6,214.3 L635.0,214.0 L635.4,213.6 L635.8,214.1 L636.2,214.3 L636.6,213.6 L637.0,213.9 L637.4,214.3 L637.8,214.0 L638.2,214.0 L638.6,213.8 L639.0,213.4 L639.4,213.2 L639.8,212.9 L640.2,212.7 L640.6,212.9 L641.0,213.1 L641.4,213.4 L641.8,213.2 L642.2,213.2 L642.6,214.1 L643.0,214.3 L643.4,213.8 L643.8,213.3 L644.2,213.3 L644.6,213.6 L645.0,213.2 L645.4,212.8 L645.8,213.9 L646.2,214.3 L646.6,213.3 L647.0,213.4 L647.4,213.6 L647.8,213.6 L648.2,213.6 L648.6,213.1 L649.0,213.4 L649.4,213.9 L649.8,213.4 L650.2,213.1 L650.6,213.2 L651.0,213.5 L651.4,213.7 L651.8,213.4 L652.2,213.2 L652.6,213.1 L653.0,213.3 L653.4,212.9 L653.8,212.2 L654.2,212.5 L654.6,212.8 L655.0,213.2 L655.4,213.6 L655.8,212.9 L656.2,212.9 L656.6,213.7 L657.0,214.0 L657.4,214.0 L657.8,213.6 L658.2,213.0 L658.6,213.3 L659.0,214.0 L659.4,213.9 L659.8,213.5 L660.2,213.3 L660.6,213.1 L661.0,213.4 L661.4,214.0 L661.8,213.5 L662.2,212.7 L662.6,213.0 L663.0,213.6 L663.4,213.7 L663.8,213.2 L664.2,213.0 L664.6,212.8 L665.0,212.3 L665.4,212.6 L665.8,213.3 L666.2,213.3 L666.6,213.6 L667.0,214.0 L667.4,213.8 L667.8,213.9 L668.2,214.3 L668.6,213.9 L669.0,213.4 L669.4,213.6 L669.8,213.4 L670.2,213.0 L670.6,213.1 L671.0,212.8 L671.4,212.4 L671.8,212.8 L672.2,213.1 L672.6,212.7 L673.0,212.5 L673.4,212.8 L673.8,213.2 L674.2,213.1 L674.6,213.0 L675.0,213.1 L675.4,212.9 L675.8,213.2 L676.2,213.7 L676.6,213.2 L677.0,213.2 L677.4,213.6 L677.8,213.3 L678.2,213.1 L678.6,213.5 L679.0,213.3 L679.4,212.4 L679.8,212.3 L680.2,212.5 L680.6,212.5 L681.0,212.5 L681.4,212.8 L681.8,213.1 L682.2,213.0 L682.6,213.2 L683.0,213.3 L683.4,213.1 L683.8,213.2" fill="none" stroke="#0c0c0c" stroke-width="1.25" stroke-linejoin="round"/>
<path d="M315.8,1.4 L314.4,5 L313.2,9.6 L314.6,9.2 L315.4,10.6 L316.6,9.4 L317.6,10.4 L318.4,9.0 L319.5,9.8 L318.6,5.6 L317.3,3.2 Z" fill="#0c0c0c"/>
<path d="M33.0,223.0 L33.0,0.75 M684.0,0.75 L684.0,223.0" fill="none" stroke="#3c3c3c" stroke-width="1.2"/>
<line x1="32.4" y1="1.15" x2="684.6" y2="1.15" stroke="#686868" stroke-width="1.6"/>
<line x1="32.4" y1="222.9" x2="684.6" y2="222.9" stroke="#333" stroke-width="1.5"/>
<path d="M33.00,223.0 V229.5 M48.70,223.0 V229.5 M65.00,223.0 V229.5 M81.30,223.0 V229.5 M97.60,223.0 V229.5 M113.90,223.0 V229.5 M130.20,223.0 V229.5 M146.50,223.0 V229.5 M162.80,223.0 V229.5 M179.10,223.0 V229.5 M195.40,223.0 V229.5 M211.70,223.0 V229.5 M228.00,223.0 V229.5 M244.30,223.0 V229.5 M260.60,223.0 V229.5 M276.90,223.0 V229.5 M293.20,223.0 V229.5 M309.50,223.0 V229.5 M325.80,223.0 V229.5 M342.10,223.0 V229.5 M358.40,223.0 V229.5 M374.70,223.0 V229.5 M391.00,223.0 V229.5 M407.30,223.0 V229.5 M423.60,223.0 V229.5 M439.90,223.0 V229.5 M456.20,223.0 V229.5 M472.50,223.0 V229.5 M488.80,223.0 V229.5 M505.10,223.0 V229.5 M521.40,223.0 V229.5 M537.70,223.0 V229.5 M554.00,223.0 V229.5 M570.30,223.0 V229.5 M586.60,223.0 V229.5 M602.90,223.0 V229.5 M619.20,223.0 V229.5 M635.50,223.0 V229.5 M651.80,223.0 V229.5 M668.10,223.0 V229.5 " stroke="#303030" stroke-width="1.35" fill="none"/>
<path d="M36.6,0.75 V7.2 M36.6,218.2 V223.0 M149.0,0.75 V7.2 M149.0,218.2 V223.0 " stroke="#303030" stroke-width="1.35" fill="none"/>
<path d="M29.4,218.2 H33.0 M29.4,154.4 H33.0 M29.4,90.7 H33.0 M29.4,26.9 H33.0 " stroke="#303030" stroke-width="1.35" fill="none"/>
<text x="27.7" y="222.5" text-anchor="end" font-size="12.0"  textLength="23.1" lengthAdjust="spacingAndGlyphs">0,00</text>
<text x="27.7" y="158.8" text-anchor="end" font-size="12.0"  textLength="23.1" lengthAdjust="spacingAndGlyphs">1,00</text>
<text x="27.7" y="95.0" text-anchor="end" font-size="12.0"  textLength="23.1" lengthAdjust="spacingAndGlyphs">2,00</text>
<text x="27.7" y="31.2" text-anchor="end" font-size="12.0"  textLength="23.1" lengthAdjust="spacingAndGlyphs">3,00</text>
<text x="33.0" y="240.7" text-anchor="middle" font-size="12.5" class="xl" textLength="23.6" lengthAdjust="spacingAndGlyphs">0,00</text>
<text x="97.6" y="240.7" text-anchor="middle" font-size="12.5" class="xl" textLength="23.6" lengthAdjust="spacingAndGlyphs">2,00</text>
<text x="162.8" y="240.7" text-anchor="middle" font-size="12.5" class="xl" textLength="23.6" lengthAdjust="spacingAndGlyphs">4,00</text>
<text x="228.0" y="240.7" text-anchor="middle" font-size="12.5" class="xl" textLength="23.6" lengthAdjust="spacingAndGlyphs">6,00</text>
<text x="293.2" y="240.7" text-anchor="middle" font-size="12.5" class="xl" textLength="23.6" lengthAdjust="spacingAndGlyphs">8,00</text>
<text x="358.4" y="240.7" text-anchor="middle" font-size="12.5" class="xl" textLength="29.6" lengthAdjust="spacingAndGlyphs">10,00</text>
<text x="423.6" y="240.7" text-anchor="middle" font-size="12.5" class="xl" textLength="29.6" lengthAdjust="spacingAndGlyphs">12,00</text>
<text x="488.8" y="240.7" text-anchor="middle" font-size="12.5" class="xl" textLength="29.6" lengthAdjust="spacingAndGlyphs">14,00</text>
<text x="554.0" y="240.7" text-anchor="middle" font-size="12.5" class="xl" textLength="29.6" lengthAdjust="spacingAndGlyphs">16,00</text>
<text x="619.2" y="240.7" text-anchor="middle" font-size="12.5" class="xl" textLength="29.6" lengthAdjust="spacingAndGlyphs">18,00</text>
<text x="683.3" y="240.7" text-anchor="end" font-size="12.5" class="xl" textLength="19.8" lengthAdjust="spacingAndGlyphs">min</text>
<text x="35.0" y="18.9" text-anchor="start" font-size="12.0"  textLength="55.0" lengthAdjust="spacingAndGlyphs">cps *1000</text>
<text x="685.6" y="19.0" text-anchor="end" font-size="12.0"  textLength="301.2" lengthAdjust="spacingAndGlyphs">Count rate of Channel A, Energy window=10..2000 keV</text>
<text transform="translate(268.8,207.6) rotate(-90)" font-size="12.0" textLength="111" lengthAdjust="spacingAndGlyphs">18F-radio oligomers</text>
<text transform="translate(341.4,75.0) rotate(-90)" font-size="12.0" textLength="70.2" lengthAdjust="spacingAndGlyphs">18F-FB-sdAb</text>
<text transform="translate(452.8,208.0) rotate(-90)" font-size="12.0" textLength="110.5" lengthAdjust="spacingAndGlyphs">Radiolysis product 1</text>
<text transform="translate(494.5,208.0) rotate(-90)" font-size="12.0" textLength="110.5" lengthAdjust="spacingAndGlyphs">Radiolysis product 2</text>
<text transform="translate(579.6,208.0) rotate(-90)" font-size="12.0" textLength="110.5" lengthAdjust="spacingAndGlyphs">Radiolysis product 3</text>
<clipPath id="cb"><rect x="30.9" y="272.3" width="647.6" height="220.59999999999997"/></clipPath>
<text x="678.2" y="290.2" text-anchor="end" font-size="12.9"  textLength="163.5" lengthAdjust="spacingAndGlyphs">Detector A: Channel 2, 280 nm</text>
<g clip-path="url(#cb)">
<path d="M270.4,431.2 L270.9,431.0 L271.4,430.8 L271.9,430.5 L272.4,430.3 L272.9,430.0 L273.4,429.7 L273.9,429.4 L274.4,429.1 L274.9,428.8 L275.4,428.4 L275.9,428.1 L276.4,427.7 L276.9,427.3 L277.4,426.8 L277.9,426.4 L278.4,425.9 L278.9,425.3 L279.4,424.8 L279.9,424.2 L280.4,423.7 L280.9,423.0 L281.4,422.4 L281.9,421.7 L282.4,421.1 L282.9,420.4 L283.4,419.6 L283.9,418.9 L284.4,418.1 L284.9,417.4 L285.4,416.6 L285.9,415.8 L286.4,415.1 L286.9,414.3 L287.4,413.5 L287.9,412.8 L288.4,412.0 L288.9,411.3 L289.4,410.6 L289.9,409.9 L290.4,409.3 L290.9,408.7 L291.4,408.1 L291.9,407.6 L292.4,407.2 L292.9,406.7 L293.4,406.4 L293.9,406.1 L294.4,405.8 L294.9,405.6 L295.4,405.5 L295.9,405.4 L296.4,405.4 L296.9,405.4 L297.4,405.5 L297.9,405.6 L298.4,405.8 L298.9,406.0 L299.4,406.2 L299.9,406.5 L300.4,406.8 L300.9,407.2 L301.4,407.6 L301.9,408.0 L302.4,408.4 L302.9,408.9 L303.4,409.4 L303.9,409.9 L304.4,410.4 L304.9,411.0 L305.4,411.6 L305.9,412.2 L306.4,412.8 L306.9,413.4 L307.4,414.0 L307.9,414.6 L308.4,415.3 L308.9,415.9 L309.4,416.5 L309.9,417.1 L310.4,417.7 L310.9,418.3 L311.4,418.9 L311.9,419.5 L312.4,420.1 L312.9,420.6 L313.4,421.2 L313.9,421.7 L314.4,422.2 L314.9,422.7 L315.4,423.2 L315.9,423.6 L316.4,424.1 L316.9,424.5 L317.4,424.9 L317.9,425.3 L318.4,425.7 L318.9,426.1 L319.4,426.4 L319.9,426.8 L320.4,427.1 L320.9,427.4 L321.4,427.7 L321.9,428.0 L322.4,428.2 L322.9,428.5 L323.4,428.8 L323.9,429.0 L324.4,429.2 L324.9,429.5 L325.4,429.7 L325.9,429.9 L326.4,430.1 L326.9,430.3 L327.4,430.5 L327.9,430.7 L328.4,430.8 L328.9,431.0 L329.4,431.2 L329.9,431.3 L330.4,431.5 L330.9,431.6 L331.4,431.8 L331.9,431.9 L332.4,432.0 L332.9,432.1 L333.4,432.2 L333.9,432.3 L334.4,432.4 L334.9,432.5 L335.4,432.6 L335.9,432.7 L336.4,432.7 Z" fill="#e8595c"/>
<path d="M437.9,429.7 L438.4,428.1 L438.9,427.2 L439.4,426.0 L439.9,424.3 L440.4,421.9 L440.9,418.8 L441.4,415.4 L441.9,411.4 L442.4,406.7 L442.9,401.4 L443.4,395.9 L443.9,390.2 L444.4,384.5 L444.9,378.7 L445.4,372.2 L445.9,365.0 L446.4,356.6 L446.9,346.7 L447.4,335.1 L447.9,320.9 L448.4,304.9 L448.9,288.2 L449.4,272.0 L449.9,256.4 L450.4,240.7 L450.9,224.9 L451.4,209.1 L451.9,193.2 L452.4,150.0 L452.9,150.0 L453.4,150.0 L453.9,150.0 L454.4,150.0 L454.9,150.0 L455.4,150.0 L455.9,150.0 L456.4,150.0 L456.9,150.0 L457.4,150.0 L457.9,150.0 L458.4,150.0 L458.9,150.0 L459.4,150.0 L459.9,150.0 L460.4,150.0 L460.9,150.0 L461.4,150.0 L461.9,150.0 L462.4,150.0 L462.9,150.0 L463.4,150.0 L463.9,150.0 L464.4,150.0 L464.9,150.0 L465.4,150.0 L465.9,150.0 L466.4,150.0 L466.9,150.0 L467.4,150.0 L467.9,150.0 L468.4,150.0 L468.9,150.0 L469.4,150.0 L469.9,150.0 L470.4,150.0 L470.9,150.0 L471.4,150.0 L471.9,150.0 L472.4,150.0 L472.9,150.0 L473.4,150.0 L473.9,150.0 L474.4,150.0 L474.9,150.0 L475.4,150.0 L475.9,150.0 L476.4,150.0 L476.9,150.0 L477.4,150.0 L477.9,150.0 L478.4,150.0 L478.9,150.0 L479.4,150.0 L479.9,150.0 L480.4,150.0 L480.9,150.0 L481.4,150.0 L481.9,150.0 L482.4,150.0 L482.9,150.0 L483.4,150.0 L483.9,150.0 L484.4,150.0 L484.9,150.0 L485.4,150.0 L485.9,150.0 L486.4,150.0 L486.9,150.0 L487.4,150.0 L487.9,150.0 L488.4,150.0 L488.9,150.0 L489.4,150.0 L489.9,150.0 L490.4,150.0 L490.9,150.0 L491.4,150.0 L491.9,150.0 L492.4,150.0 L492.9,150.0 L493.4,150.0 L493.9,150.0 L494.4,150.0 L494.9,150.0 L495.4,150.0 L495.9,150.0 L496.4,150.0 L496.9,150.0 L497.4,150.0 L497.9,150.0 L498.4,150.0 L498.9,150.0 L499.4,150.0 L499.9,150.0 L500.4,150.0 L500.9,150.0 L501.4,150.0 L501.9,150.0 L502.4,150.0 L502.9,150.0 L503.4,150.0 L503.9,150.0 L504.4,150.0 L504.9,150.0 L505.4,150.0 L505.9,150.0 L506.4,150.0 L506.9,150.0 L507.4,150.0 L507.9,150.0 L508.4,150.0 L508.9,150.0 L509.4,150.0 L509.9,150.0 L510.4,150.0 L510.9,150.0 L511.4,150.0 L511.9,150.0 L512.4,150.0 L512.9,150.0 L513.4,150.0 L513.9,150.0 L514.4,150.0 L514.9,150.0 L515.4,150.0 L515.9,150.0 L516.4,150.0 L516.9,150.0 L517.4,199.9 L517.9,212.0 L518.4,223.8 L518.9,235.3 L519.4,246.5 L519.9,257.4 L520.4,267.9 L520.9,278.1 L521.4,288.1 L521.9,297.8 L522.4,307.3 L522.9,316.4 L523.4,325.2 L523.9,333.6 L524.4,341.6 L524.9,349.3 L525.4,356.5 L525.9,362.8 L526.4,368.0 L526.9,372.8 L527.4,377.1 L527.9,381.1 L528.4,384.7 L528.9,387.9 L529.4,390.7 L529.9,393.2 L530.4,395.5 L530.9,397.6 L531.4,399.5 L531.9,401.2 L532.4,402.8 L532.9,404.3 L533.4,405.8 L533.9,407.2 L534.4,408.6 L534.9,409.9 L535.4,411.1 L535.9,412.2 L536.4,413.3 L536.9,414.2 L537.4,415.1 L537.9,415.9 L538.4,416.6 L538.9,417.3 L539.4,417.9 L539.9,418.6 L540.4,419.1 L540.9,419.7 L541.4,420.2 L541.9,420.7 L542.4,421.2 L542.9,421.7 L543.4,422.1 L543.9,422.5 L544.4,422.9 L544.9,423.3 L545.4,423.6 L545.9,424.0 L546.4,424.3 L546.9,424.6 L547.4,425.0 L547.9,425.3 L548.4,425.5 L548.9,425.8 L549.4,426.1 L549.9,426.4 L550.4,426.6 L550.9,426.9 L551.4,427.1 L551.9,427.3 L552.4,427.6 L552.9,427.8 L553.4,428.0 L553.9,428.2 L554.4,428.4 L554.9,428.6 L555.4,428.8 L555.9,429.0 L556.4,429.2 L556.9,429.4 L557.4,429.6 L557.9,429.7 L558.4,429.9 L558.9,430.0 L559.4,430.2 L559.9,430.3 L560.4,430.4 L560.9,430.5 L561.4,430.6 Z" fill="#3575b5"/>
<line x1="270.4" y1="431.2" x2="336.4" y2="432.7" stroke="#333" stroke-width="0.8"/>
<line x1="437.9" y1="429.7" x2="561.4" y2="430.6" stroke="#222" stroke-width="0.9"/>
<path id="bc" d="M30.9,433.9 L31.4,433.9 L31.9,433.9 L32.4,433.9 L32.9,433.9 L33.4,433.9 L33.9,433.9 L34.4,433.9 L34.9,433.9 L35.4,433.9 L35.9,433.9 L36.4,433.9 L36.9,433.9 L37.4,433.9 L37.9,433.9 L38.4,433.9 L38.9,433.9 L39.4,433.9 L39.9,433.9 L40.4,433.9 L40.9,433.9 L41.4,433.9 L41.9,433.9 L42.4,433.9 L42.9,433.9 L43.4,433.9 L43.9,433.9 L44.4,433.9 L44.9,433.9 L45.4,433.9 L45.9,433.9 L46.4,433.9 L46.9,433.9 L47.4,433.9 L47.9,433.9 L48.4,433.9 L48.9,433.9 L49.4,433.9 L49.9,433.9 L50.4,433.9 L50.9,433.9 L51.4,433.9 L51.9,433.9 L52.4,433.9 L52.9,433.9 L53.4,433.9 L53.9,433.9 L54.4,433.9 L54.9,433.9 L55.4,433.9 L55.9,433.9 L56.4,433.9 L56.9,433.9 L57.4,433.9 L57.9,433.9 L58.4,433.9 L58.9,433.9 L59.4,433.9 L59.9,433.9 L60.4,433.9 L60.9,433.9 L61.4,433.9 L61.9,433.9 L62.4,433.9 L62.9,433.9 L63.4,433.9 L63.9,433.9 L64.4,433.9 L64.9,433.9 L65.4,433.9 L65.9,433.9 L66.4,433.9 L66.9,433.9 L67.4,433.9 L67.9,433.9 L68.4,433.9 L68.9,433.9 L69.4,433.9 L69.9,433.9 L70.4,433.9 L70.9,433.9 L71.4,433.9 L71.9,433.9 L72.4,433.9 L72.9,433.9 L73.4,433.9 L73.9,433.9 L74.4,433.9 L74.9,433.9 L75.4,433.9 L75.9,433.9 L76.4,433.9 L76.9,433.9 L77.4,433.9 L77.9,433.9 L78.4,433.9 L78.9,433.9 L79.4,433.9 L79.9,433.9 L80.4,433.9 L80.9,433.9 L81.4,433.9 L81.9,433.9 L82.4,433.9 L82.9,433.9 L83.4,433.9 L83.9,433.9 L84.4,433.9 L84.9,433.9 L85.4,433.9 L85.9,433.9 L86.4,433.9 L86.9,433.9 L87.4,433.9 L87.9,433.9 L88.4,433.9 L88.9,433.9 L89.4,433.9 L89.9,433.9 L90.4,433.9 L90.9,433.9 L91.4,433.9 L91.9,433.9 L92.4,433.9 L92.9,433.9 L93.4,433.9 L93.9,433.9 L94.4,433.9 L94.9,433.9 L95.4,433.9 L95.9,433.9 L96.4,433.9 L96.9,433.9 L97.4,433.9 L97.9,433.9 L98.4,433.9 L98.9,433.9 L99.4,433.9 L99.9,433.9 L100.4,433.9 L100.9,433.9 L101.4,433.9 L101.9,433.9 L102.4,433.9 L102.9,433.9 L103.4,433.9 L103.9,433.9 L104.4,433.9 L104.9,433.9 L105.4,433.9 L105.9,433.9 L106.4,433.9 L106.9,433.9 L107.4,433.9 L107.9,433.9 L108.4,433.9 L108.9,433.9 L109.4,433.9 L109.9,433.9 L110.4,433.9 L110.9,433.9 L111.4,433.9 L111.9,433.9 L112.4,433.9 L112.9,433.9 L113.4,433.9 L113.9,433.9 L114.4,433.9 L114.9,433.9 L115.4,433.9 L115.9,433.9 L116.4,433.9 L116.9,433.9 L117.4,433.9 L117.9,433.9 L118.4,433.9 L118.9,433.9 L119.4,433.9 L119.9,433.9 L120.4,433.9 L120.9,433.9 L121.4,433.9 L121.9,433.9 L122.4,433.9 L122.9,433.9 L123.4,433.9 L123.9,433.9 L124.4,433.9 L124.9,433.9 L125.4,433.9 L125.9,433.9 L126.4,433.9 L126.9,433.9 L127.4,433.9 L127.9,433.9 L128.4,433.9 L128.9,433.9 L129.4,433.9 L129.9,433.9 L130.4,433.9 L130.9,433.9 L131.4,433.9 L131.9,433.9 L132.4,433.9 L132.9,433.9 L133.4,433.9 L133.9,433.9 L134.4,433.9 L134.9,433.9 L135.4,433.9 L135.9,433.9 L136.4,433.9 L136.9,433.9 L137.4,433.9 L137.9,433.9 L138.4,433.9 L138.9,433.9 L139.4,433.9 L139.9,433.9 L140.4,433.9 L140.9,433.9 L141.4,433.9 L141.9,433.9 L142.4,433.9 L142.9,433.9 L143.4,433.9 L143.9,433.9 L144.4,433.9 L144.9,433.9 L145.4,433.9 L145.9,433.9 L146.4,433.9 L146.9,433.9 L147.4,433.9 L147.9,433.9 L148.4,433.9 L148.9,433.9 L149.4,433.9 L149.9,433.9 L150.4,433.9 L150.9,433.9 L151.4,433.9 L151.9,433.9 L152.4,433.9 L152.9,433.9 L153.4,433.9 L153.9,433.9 L154.4,433.9 L154.9,433.9 L155.4,433.9 L155.9,433.9 L156.4,433.9 L156.9,433.9 L157.4,433.9 L157.9,433.9 L158.4,433.9 L158.9,433.9 L159.4,433.9 L159.9,433.9 L160.4,433.9 L160.9,433.9 L161.4,433.9 L161.9,433.9 L162.4,433.9 L162.9,433.9 L163.4,433.9 L163.9,433.9 L164.4,433.9 L164.9,433.9 L165.4,433.9 L165.9,433.9 L166.4,433.9 L166.9,433.9 L167.4,433.9 L167.9,433.9 L168.4,433.9 L168.9,433.9 L169.4,433.9 L169.9,433.9 L170.4,433.9 L170.9,433.9 L171.4,433.9 L171.9,433.9 L172.4,433.9 L172.9,433.9 L173.4,433.9 L173.9,433.9 L174.4,433.9 L174.9,433.9 L175.4,433.9 L175.9,433.9 L176.4,433.9 L176.9,433.9 L177.4,433.9 L177.9,433.9 L178.4,433.9 L178.9,433.9 L179.4,433.9 L179.9,433.9 L180.4,433.9 L180.9,433.9 L181.4,433.9 L181.9,433.9 L182.4,433.9 L182.9,433.9 L183.4,433.9 L183.9,433.9 L184.4,433.9 L184.9,433.9 L185.4,433.9 L185.9,433.9 L186.4,433.9 L186.9,433.9 L187.4,433.9 L187.9,433.9 L188.4,433.9 L188.9,433.9 L189.4,433.9 L189.9,433.9 L190.4,433.9 L190.9,433.9 L191.4,433.9 L191.9,433.9 L192.4,433.9 L192.9,433.9 L193.4,433.9 L193.9,433.9 L194.4,433.9 L194.9,433.9 L195.4,433.9 L195.9,433.9 L196.4,433.9 L196.9,433.9 L197.4,433.9 L197.9,433.9 L198.4,433.9 L198.9,433.9 L199.4,433.9 L199.9,433.9 L200.4,433.9 L200.9,433.9 L201.4,433.9 L201.9,433.9 L202.4,433.9 L202.9,433.9 L203.4,433.9 L203.9,433.9 L204.4,433.9 L204.9,433.9 L205.4,433.9 L205.9,433.9 L206.4,433.9 L206.9,433.9 L207.4,433.9 L207.9,433.9 L208.4,433.9 L208.9,433.9 L209.4,433.9 L209.9,433.9 L210.4,433.9 L210.9,433.9 L211.4,433.9 L211.9,433.9 L212.4,433.9 L212.9,433.9 L213.4,433.9 L213.9,433.9 L214.4,433.9 L214.9,433.9 L215.4,433.9 L215.9,433.9 L216.4,433.9 L216.9,433.9 L217.4,433.9 L217.9,433.9 L218.4,433.9 L218.9,433.9 L219.4,433.9 L219.9,433.9 L220.4,433.9 L220.9,433.9 L221.4,433.9 L221.9,433.9 L222.4,433.9 L222.9,433.9 L223.4,433.9 L223.9,433.9 L224.4,433.8 L224.9,433.8 L225.4,433.8 L225.9,433.8 L226.4,433.8 L226.9,433.8 L227.4,433.8 L227.9,433.8 L228.4,433.8 L228.9,433.8 L229.4,433.8 L229.9,433.8 L230.4,433.8 L230.9,433.8 L231.4,433.8 L231.9,433.8 L232.4,433.8 L232.9,433.8 L233.4,433.8 L233.9,433.8 L234.4,433.8 L234.9,433.8 L235.4,433.8 L235.9,433.8 L236.4,433.8 L236.9,433.8 L237.4,433.8 L237.9,433.8 L238.4,433.8 L238.9,433.7 L239.4,433.7 L239.9,433.7 L240.4,433.7 L240.9,433.7 L241.4,433.7 L241.9,433.7 L242.4,433.7 L242.9,433.7 L243.4,433.7 L243.9,433.7 L244.4,433.7 L244.9,433.7 L245.4,433.7 L245.9,433.7 L246.4,433.7 L246.9,433.6 L247.4,433.6 L247.9,433.6 L248.4,433.6 L248.9,433.6 L249.4,433.6 L249.9,433.6 L250.4,433.6 L250.9,433.6 L251.4,433.6 L251.9,433.6 L252.4,433.6 L252.9,433.5 L253.4,433.5 L253.9,433.5 L254.4,433.5 L254.9,433.5 L255.4,433.5 L255.9,433.5 L256.4,433.4 L256.9,433.4 L257.4,433.4 L257.9,433.4 L258.4,433.4 L258.9,433.3 L259.4,433.3 L259.9,433.3 L260.4,433.2 L260.9,433.2 L261.4,433.1 L261.9,433.1 L262.4,433.0 L262.9,433.0 L263.4,432.9 L263.9,432.8 L264.4,432.8 L264.9,432.7 L265.4,432.6 L265.9,432.5 L266.4,432.4 L266.9,432.3 L267.4,432.1 L267.9,432.0 L268.4,431.9 L268.9,431.7 L269.4,431.5 L269.9,431.4 L270.4,431.2 L270.9,431.0 L271.4,430.8 L271.9,430.5 L272.4,430.3 L272.9,430.0 L273.4,429.7 L273.9,429.4 L274.4,429.1 L274.9,428.8 L275.4,428.4 L275.9,428.1 L276.4,427.7 L276.9,427.3 L277.4,426.8 L277.9,426.4 L278.4,425.9 L278.9,425.3 L279.4,424.8 L279.9,424.2 L280.4,423.7 L280.9,423.0 L281.4,422.4 L281.9,421.7 L282.4,421.1 L282.9,420.4 L283.4,419.6 L283.9,418.9 L284.4,418.1 L284.9,417.4 L285.4,416.6 L285.9,415.8 L286.4,415.1 L286.9,414.3 L287.4,413.5 L287.9,412.8 L288.4,412.0 L288.9,411.3 L289.4,410.6 L289.9,409.9 L290.4,409.3 L290.9,408.7 L291.4,408.1 L291.9,407.6 L292.4,407.2 L292.9,406.7 L293.4,406.4 L293.9,406.1 L294.4,405.8 L294.9,405.6 L295.4,405.5 L295.9,405.4 L296.4,405.4 L296.9,405.4 L297.4,405.5 L297.9,405.6 L298.4,405.8 L298.9,406.0 L299.4,406.2 L299.9,406.5 L300.4,406.8 L300.9,407.2 L301.4,407.6 L301.9,408.0 L302.4,408.4 L302.9,408.9 L303.4,409.4 L303.9,409.9 L304.4,410.4 L304.9,411.0 L305.4,411.6 L305.9,412.2 L306.4,412.8 L306.9,413.4 L307.4,414.0 L307.9,414.6 L308.4,415.3 L308.9,415.9 L309.4,416.5 L309.9,417.1 L310.4,417.7 L310.9,418.3 L311.4,418.9 L311.9,419.5 L312.4,420.1 L312.9,420.6 L313.4,421.2 L313.9,421.7 L314.4,422.2 L314.9,422.7 L315.4,423.2 L315.9,423.6 L316.4,424.1 L316.9,424.5 L317.4,424.9 L317.9,425.3 L318.4,425.7 L318.9,426.1 L319.4,426.4 L319.9,426.8 L320.4,427.1 L320.9,427.4 L321.4,427.7 L321.9,428.0 L322.4,428.2 L322.9,428.5 L323.4,428.8 L323.9,429.0 L324.4,429.2 L324.9,429.5 L325.4,429.7 L325.9,429.9 L326.4,430.1 L326.9,430.3 L327.4,430.5 L327.9,430.7 L328.4,430.8 L328.9,431.0 L329.4,431.2 L329.9,431.3 L330.4,431.5 L330.9,431.6 L331.4,431.8 L331.9,431.9 L332.4,432.0 L332.9,432.1 L333.4,432.2 L333.9,432.3 L334.4,432.4 L334.9,432.5 L335.4,432.6 L335.9,432.7 L336.4,432.8 L336.9,432.8 L337.4,432.9 L337.9,433.0 L338.4,433.0 L338.9,433.1 L339.4,433.1 L339.9,433.2 L340.4,433.2 L340.9,433.2 L341.4,433.3 L341.9,433.3 L342.4,433.3 L342.9,433.4 L343.4,433.4 L343.9,433.4 L344.4,433.4 L344.9,433.5 L345.4,433.5 L345.9,433.5 L346.4,433.5 L346.9,433.5 L347.4,433.5 L347.9,433.5 L348.4,433.6 L348.9,433.6 L349.4,433.6 L349.9,433.6 L350.4,433.6 L350.9,433.6 L351.4,433.6 L351.9,433.6 L352.4,433.6 L352.9,433.6 L353.4,433.7 L353.9,433.7 L354.4,433.7 L354.9,433.7 L355.4,433.7 L355.9,433.7 L356.4,433.7 L356.9,433.7 L357.4,433.7 L357.9,433.7 L358.4,433.7 L358.9,433.7 L359.4,433.7 L359.9,433.7 L360.4,433.7 L360.9,433.7 L361.4,433.8 L361.9,433.8 L362.4,433.8 L362.9,433.8 L363.4,433.8 L363.9,433.8 L364.4,433.8 L364.9,433.8 L365.4,433.8 L365.9,433.8 L366.4,433.8 L366.9,433.8 L367.4,433.8 L367.9,433.8 L368.4,433.8 L368.9,433.8 L369.4,433.8 L369.9,433.8 L370.4,433.8 L370.9,433.8 L371.4,433.8 L371.9,433.8 L372.4,433.8 L372.9,433.8 L373.4,433.8 L373.9,433.8 L374.4,433.8 L374.9,433.8 L375.4,433.8 L375.9,433.9 L376.4,433.9 L376.9,433.9 L377.4,433.9 L377.9,433.9 L378.4,433.9 L378.9,433.9 L379.4,433.9 L379.9,433.9 L380.4,433.9 L380.9,433.9 L381.4,433.9 L381.9,433.9 L382.4,433.9 L382.9,433.9 L383.4,433.9 L383.9,433.9 L384.4,433.9 L384.9,433.9 L385.4,433.9 L385.9,433.9 L386.4,433.9 L386.9,433.9 L387.4,433.9 L387.9,433.9 L388.4,433.9 L388.9,433.9 L389.4,433.9 L389.9,433.9 L390.4,433.9 L390.9,433.9 L391.4,433.9 L391.9,433.9 L392.4,433.9 L392.9,433.9 L393.4,433.9 L393.9,433.9 L394.4,433.9 L394.9,433.9 L395.4,433.9 L395.9,433.9 L396.4,433.9 L396.9,433.9 L397.4,433.9 L397.9,433.9 L398.4,433.9 L398.9,433.9 L399.4,433.9 L399.9,433.9 L400.4,433.9 L400.9,433.9 L401.4,433.9 L401.9,433.9 L402.4,433.9 L402.9,433.9 L403.4,433.9 L403.9,433.9 L404.4,433.9 L404.9,433.9 L405.4,433.9 L405.9,433.9 L406.4,433.9 L406.9,433.9 L407.4,433.9 L407.9,433.9 L408.4,433.9 L408.9,433.9 L409.4,433.9 L409.9,433.9 L410.4,433.9 L410.9,433.9 L411.4,433.9 L411.9,433.9 L412.4,433.9 L412.9,433.9 L413.4,433.9 L413.9,433.9 L414.4,433.9 L414.9,433.9 L415.4,433.9 L415.9,433.9 L416.4,433.9 L416.9,433.9 L417.4,433.9 L417.9,433.9 L418.4,433.9 L418.9,433.9 L419.4,433.9 L419.9,433.9 L420.4,433.9 L420.9,433.9 L421.4,433.9 L421.9,433.9 L422.4,433.9 L422.9,433.9 L423.4,433.9 L423.9,433.9 L424.4,433.9 L424.9,433.9 L425.4,433.9 L425.9,433.9 L426.4,433.9 L426.9,433.9 L427.4,433.9 L427.9,433.8 L428.4,433.8 L428.9,433.8 L429.4,433.8 L429.9,433.7 L430.4,433.7 L430.9,433.7 L431.4,433.6 L431.9,433.6 L432.4,433.6 L432.9,433.5 L433.4,433.4 L433.9,433.3 L434.4,433.1 L434.9,432.9 L435.4,432.6 L435.9,431.9 L436.4,431.1 L436.9,430.4 L437.4,429.7 L437.9,429.0 L438.4,428.1 L438.9,427.2 L439.4,426.0 L439.9,424.3 L440.4,421.9 L440.9,418.8 L441.4,415.4 L441.9,411.4 L442.4,406.7 L442.9,401.4 L443.4,395.9 L443.9,390.2 L444.4,384.5 L444.9,378.7 L445.4,372.2 L445.9,365.0 L446.4,356.6 L446.9,346.7 L447.4,335.1 L447.9,320.9 L448.4,304.9 L448.9,288.2 L449.4,272.0 L449.9,256.4 L450.4,240.7 L450.9,224.9 L451.4,209.1 L451.9,193.2 L452.4,150.0 L452.9,150.0 L453.4,150.0 L453.9,150.0 L454.4,150.0 L454.9,150.0 L455.4,150.0 L455.9,150.0 L456.4,150.0 L456.9,150.0 L457.4,150.0 L457.9,150.0 L458.4,150.0 L458.9,150.0 L459.4,150.0 L459.9,150.0 L460.4,150.0 L460.9,150.0 L461.4,150.0 L461.9,150.0 L462.4,150.0 L462.9,150.0 L463.4,150.0 L463.9,150.0 L464.4,150.0 L464.9,150.0 L465.4,150.0 L465.9,150.0 L466.4,150.0 L466.9,150.0 L467.4,150.0 L467.9,150.0 L468.4,150.0 L468.9,150.0 L469.4,150.0 L469.9,150.0 L470.4,150.0 L470.9,150.0 L471.4,150.0 L471.9,150.0 L472.4,150.0 L472.9,150.0 L473.4,150.0 L473.9,150.0 L474.4,150.0 L474.9,150.0 L475.4,150.0 L475.9,150.0 L476.4,150.0 L476.9,150.0 L477.4,150.0 L477.9,150.0 L478.4,150.0 L478.9,150.0 L479.4,150.0 L479.9,150.0 L480.4,150.0 L480.9,150.0 L481.4,150.0 L481.9,150.0 L482.4,150.0 L482.9,150.0 L483.4,150.0 L483.9,150.0 L484.4,150.0 L484.9,150.0 L485.4,150.0 L485.9,150.0 L486.4,150.0 L486.9,150.0 L487.4,150.0 L487.9,150.0 L488.4,150.0 L488.9,150.0 L489.4,150.0 L489.9,150.0 L490.4,150.0 L490.9,150.0 L491.4,150.0 L491.9,150.0 L492.4,150.0 L492.9,150.0 L493.4,150.0 L493.9,150.0 L494.4,150.0 L494.9,150.0 L495.4,150.0 L495.9,150.0 L496.4,150.0 L496.9,150.0 L497.4,150.0 L497.9,150.0 L498.4,150.0 L498.9,150.0 L499.4,150.0 L499.9,150.0 L500.4,150.0 L500.9,150.0 L501.4,150.0 L501.9,150.0 L502.4,150.0 L502.9,150.0 L503.4,150.0 L503.9,150.0 L504.4,150.0 L504.9,150.0 L505.4,150.0 L505.9,150.0 L506.4,150.0 L506.9,150.0 L507.4,150.0 L507.9,150.0 L508.4,150.0 L508.9,150.0 L509.4,150.0 L509.9,150.0 L510.4,150.0 L510.9,150.0 L511.4,150.0 L511.9,150.0 L512.4,150.0 L512.9,150.0 L513.4,150.0 L513.9,150.0 L514.4,150.0 L514.9,150.0 L515.4,150.0 L515.9,150.0 L516.4,150.0 L516.9,150.0 L517.4,199.9 L517.9,212.0 L518.4,223.8 L518.9,235.3 L519.4,246.5 L519.9,257.4 L520.4,267.9 L520.9,278.1 L521.4,288.1 L521.9,297.8 L522.4,307.3 L522.9,316.4 L523.4,325.2 L523.9,333.6 L524.4,341.6 L524.9,349.3 L525.4,356.5 L525.9,362.8 L526.4,368.0 L526.9,372.8 L527.4,377.1 L527.9,381.1 L528.4,384.7 L528.9,387.9 L529.4,390.7 L529.9,393.2 L530.4,395.5 L530.9,397.6 L531.4,399.5 L531.9,401.2 L532.4,402.8 L532.9,404.3 L533.4,405.8 L533.9,407.2 L534.4,408.6 L534.9,409.9 L535.4,411.1 L535.9,412.2 L536.4,413.3 L536.9,414.2 L537.4,415.1 L537.9,415.9 L538.4,416.6 L538.9,417.3 L539.4,417.9 L539.9,418.6 L540.4,419.1 L540.9,419.7 L541.4,420.2 L541.9,420.7 L542.4,421.2 L542.9,421.7 L543.4,422.1 L543.9,422.5 L544.4,422.9 L544.9,423.3 L545.4,423.6 L545.9,424.0 L546.4,424.3 L546.9,424.6 L547.4,425.0 L547.9,425.3 L548.4,425.5 L548.9,425.8 L549.4,426.1 L549.9,426.4 L550.4,426.6 L550.9,426.9 L551.4,427.1 L551.9,427.3 L552.4,427.6 L552.9,427.8 L553.4,428.0 L553.9,428.2 L554.4,428.4 L554.9,428.6 L555.4,428.8 L555.9,429.0 L556.4,429.2 L556.9,429.4 L557.4,429.6 L557.9,429.7 L558.4,429.9 L558.9,430.0 L559.4,430.2 L559.9,430.3 L560.4,430.4 L560.9,430.5 L561.4,430.6 L561.9,430.7 L562.4,430.8 L562.9,430.9 L563.4,431.0 L563.9,431.1 L564.4,431.2 L564.9,431.3 L565.4,431.3 L565.9,431.4 L566.4,431.5 L566.9,431.6 L567.4,431.7 L567.9,431.7 L568.4,431.8 L568.9,431.9 L569.4,432.0 L569.9,432.0 L570.4,432.1 L570.9,432.2 L571.4,432.2 L571.9,432.3 L572.4,432.3 L572.9,432.4 L573.4,432.5 L573.9,432.5 L574.4,432.6 L574.9,432.6 L575.4,432.7 L575.9,432.7 L576.4,432.7 L576.9,432.8 L577.4,432.8 L577.9,432.9 L578.4,432.9 L578.9,432.9 L579.4,433.0 L579.9,433.0 L580.4,433.0 L580.9,433.1 L581.4,433.1 L581.9,433.1 L582.4,433.1 L582.9,433.1 L583.4,433.2 L583.9,433.2 L584.4,433.2 L584.9,433.2 L585.4,433.2 L585.9,433.2 L586.4,433.3 L586.9,433.3 L587.4,433.3 L587.9,433.3 L588.4,433.3 L588.9,433.3 L589.4,433.3 L589.9,433.4 L590.4,433.4 L590.9,433.4 L591.4,433.4 L591.9,433.4 L592.4,433.4 L592.9,433.4 L593.4,433.4 L593.9,433.4 L594.4,433.5 L594.9,433.5 L595.4,433.5 L595.9,433.5 L596.4,433.5 L596.9,433.5 L597.4,433.5 L597.9,433.5 L598.4,433.5 L598.9,433.5 L599.4,433.6 L599.9,433.6 L600.4,433.6 L600.9,433.6 L601.4,433.6 L601.9,433.6 L602.4,433.6 L602.9,433.6 L603.4,433.6 L603.9,433.6 L604.4,433.6 L604.9,433.6 L605.4,433.6 L605.9,433.7 L606.4,433.7 L606.9,433.7 L607.4,433.7 L607.9,433.7 L608.4,433.7 L608.9,433.7 L609.4,433.7 L609.9,433.7 L610.4,433.7 L610.9,433.7 L611.4,433.7 L611.9,433.7 L612.4,433.7 L612.9,433.7 L613.4,433.7 L613.9,433.7 L614.4,433.7 L614.9,433.8 L615.4,433.8 L615.9,433.8 L616.4,433.8 L616.9,433.8 L617.4,433.8 L617.9,433.8 L618.4,433.8 L618.9,433.8 L619.4,433.8 L619.9,433.8 L620.4,433.8 L620.9,433.8 L621.4,433.8 L621.9,433.8 L622.4,433.8 L622.9,433.8 L623.4,433.8 L623.9,433.8 L624.4,433.8 L624.9,433.8 L625.4,433.8 L625.9,433.9 L626.4,433.9 L626.9,433.9 L627.4,433.9 L627.9,433.9 L628.4,433.9 L628.9,433.9 L629.4,433.9 L629.9,433.9 L630.4,433.9 L630.9,433.9 L631.4,433.9 L631.9,433.9 L632.4,433.9 L632.9,433.9 L633.4,433.9 L633.9,433.9 L634.4,433.9 L634.9,433.9 L635.4,433.9 L635.9,433.9 L636.4,433.9 L636.9,433.9 L637.4,433.9 L637.9,433.9 L638.4,433.9 L638.9,433.9 L639.4,433.9 L639.9,433.9 L640.4,434.0 L640.9,434.0 L641.4,434.0 L641.9,434.0 L642.4,434.0 L642.9,434.0 L643.4,434.0 L643.9,434.0 L644.4,434.0 L644.9,434.0 L645.4,434.0 L645.9,434.0 L646.4,434.0 L646.9,434.0 L647.4,434.0 L647.9,434.0 L648.4,434.0 L648.9,434.0 L649.4,434.0 L649.9,434.0 L650.4,434.0 L650.9,434.0 L651.4,434.0 L651.9,434.0 L652.4,434.0 L652.9,434.0 L653.4,434.0 L653.9,434.0 L654.4,434.0 L654.9,434.0 L655.4,434.0 L655.9,434.0 L656.4,434.0 L656.9,434.0 L657.4,434.0 L657.9,434.0 L658.4,434.0 L658.9,434.0 L659.4,434.0 L659.9,434.0 L660.4,434.0 L660.9,434.0 L661.4,434.0 L661.9,434.1 L662.4,434.1 L662.9,434.1 L663.4,434.1 L663.9,434.1 L664.4,434.1 L664.9,434.1 L665.4,434.1 L665.9,434.1 L666.4,434.1 L666.9,434.1 L667.4,434.1 L667.9,434.1 L668.4,434.1 L668.9,434.1 L669.4,434.1 L669.9,434.1 L670.4,434.1 L670.9,434.1 L671.4,434.1 L671.9,434.1 L672.4,434.1 L672.9,434.1 L673.4,434.1 L673.9,434.1 L674.4,434.1 L674.9,434.1 L675.4,434.1 L675.9,434.1 L676.4,434.1 L676.9,434.1 L677.4,434.1 L677.9,434.1 L678.4,434.1" fill="none" stroke="#161616" stroke-width="1.25" stroke-linejoin="round" transform="translate(0,-0.32)"/>
<use href="#bc" transform="translate(0,0.64)"/>
</g>
<path d="M30.9,492.9 L30.9,272.40000000000003 L678.5,272.40000000000003" fill="none" stroke="#414141" stroke-width="1.4"/>
<line x1="678.6" y1="271.7" x2="678.6" y2="492.9" stroke="#585858" stroke-width="1.9"/>
<line x1="30.299999999999997" y1="492.9" x2="679.1" y2="492.9" stroke="#333" stroke-width="1.5"/>
<path d="M45.59,492.9 V498.9 M61.88,492.9 V498.9 M78.17,492.9 V498.9 M94.46,492.9 V498.9 M110.75,492.9 V498.9 M127.04,492.9 V498.9 M143.33,492.9 V498.9 M159.62,492.9 V498.9 M175.91,492.9 V498.9 M192.20,492.9 V498.9 M208.49,492.9 V498.9 M224.78,492.9 V498.9 M241.07,492.9 V498.9 M257.36,492.9 V498.9 M273.65,492.9 V498.9 M289.94,492.9 V498.9 M306.23,492.9 V498.9 M322.52,492.9 V498.9 M338.81,492.9 V498.9 M355.10,492.9 V498.9 M371.39,492.9 V498.9 M387.68,492.9 V498.9 M403.97,492.9 V498.9 M420.26,492.9 V498.9 M436.55,492.9 V498.9 M452.84,492.9 V498.9 M469.13,492.9 V498.9 M485.42,492.9 V498.9 M501.71,492.9 V498.9 M518.00,492.9 V498.9 M534.29,492.9 V498.9 M550.58,492.9 V498.9 M566.87,492.9 V498.9 M583.16,492.9 V498.9 M599.45,492.9 V498.9 M615.74,492.9 V498.9 M632.03,492.9 V498.9 M648.32,492.9 V498.9 M664.61,492.9 V498.9 " stroke="#303030" stroke-width="1.35" fill="none"/>
<path d="M27.8,290.7 H30.9 M27.8,338.4 H30.9 M27.8,386.1 H30.9 M27.8,433.8 H30.9 M27.8,481.5 H30.9 " stroke="#303030" stroke-width="1.35" fill="none"/>
<text x="25.8" y="295.3" text-anchor="end" font-size="12.9"  textLength="20.4" lengthAdjust="spacingAndGlyphs">300</text>
<text x="25.8" y="343.0" text-anchor="end" font-size="12.9"  textLength="20.4" lengthAdjust="spacingAndGlyphs">200</text>
<text x="25.8" y="390.7" text-anchor="end" font-size="12.9"  textLength="20.4" lengthAdjust="spacingAndGlyphs">100</text>
<text x="25.8" y="438.4" text-anchor="end" font-size="12.9"  textLength="6.9" lengthAdjust="spacingAndGlyphs">0</text>
<text x="25.8" y="486.1" text-anchor="end" font-size="12.9"  textLength="24.4" lengthAdjust="spacingAndGlyphs">-100</text>
<text x="94.5" y="509.2" text-anchor="middle" font-size="13.0" class="xl" textLength="23.6" lengthAdjust="spacingAndGlyphs">2,00</text>
<text x="159.6" y="509.2" text-anchor="middle" font-size="13.0" class="xl" textLength="23.6" lengthAdjust="spacingAndGlyphs">4,00</text>
<text x="224.8" y="509.2" text-anchor="middle" font-size="13.0" class="xl" textLength="23.6" lengthAdjust="spacingAndGlyphs">6,00</text>
<text x="289.9" y="509.2" text-anchor="middle" font-size="13.0" class="xl" textLength="23.6" lengthAdjust="spacingAndGlyphs">8,00</text>
<text x="355.1" y="509.2" text-anchor="middle" font-size="13.0" class="xl" textLength="29.6" lengthAdjust="spacingAndGlyphs">10,00</text>
<text x="420.3" y="509.2" text-anchor="middle" font-size="13.0" class="xl" textLength="29.6" lengthAdjust="spacingAndGlyphs">12,00</text>
<text x="485.4" y="509.2" text-anchor="middle" font-size="13.0" class="xl" textLength="29.6" lengthAdjust="spacingAndGlyphs">14,00</text>
<text x="550.6" y="509.2" text-anchor="middle" font-size="13.0" class="xl" textLength="29.6" lengthAdjust="spacingAndGlyphs">16,00</text>
<text x="615.7" y="509.2" text-anchor="middle" font-size="13.0" class="xl" textLength="29.6" lengthAdjust="spacingAndGlyphs">18,00</text>
<text x="678.2" y="509.2" text-anchor="end" font-size="13.0" class="xl" textLength="19.8" lengthAdjust="spacingAndGlyphs">min</text>
<text x="32.9" y="290.4" text-anchor="start" font-size="12.9"  textLength="26.0" lengthAdjust="spacingAndGlyphs">mAU</text>
<text transform="translate(303.0,402.6) rotate(-90)" font-size="14" textLength="24.2" lengthAdjust="spacingAndGlyphs" class="pl">8,20</text>
<text transform="translate(532.8,304.2) rotate(-90)" font-size="14" textLength="28.4" lengthAdjust="spacingAndGlyphs" class="pl">14,88</text>
</svg>
</body></html>
